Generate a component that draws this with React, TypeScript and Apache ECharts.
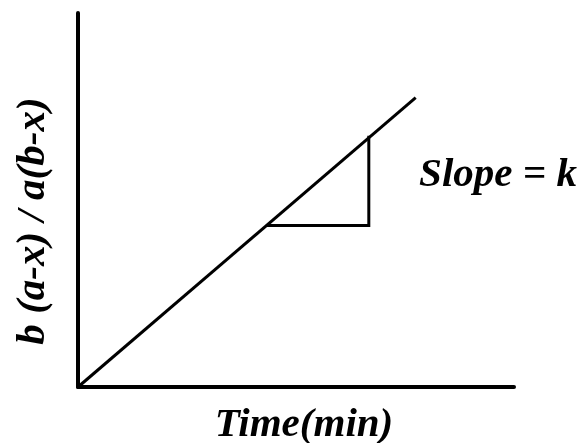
import React, { useEffect, useRef } from "react";
import * as echarts from "echarts";

const xAxisName = "Time(min)";
const yAxisName = "b (a-x) / a(b-x)";
const slopeLabel = "Slope = k";
const axisRange = [0, 100];
const lineX = [0, 77.45];
const lineY = [0, 77.35];
const triangleX = [43.5, 66.7, 66.7];
const triangleY = [43.2, 43.2, 66.8];

const font = "Times New Roman, Liberation Serif, serif";
const baseSize = 36;
const textScale = 1.14;

const labelStyle = (text: string) => ({
  text,
  fontFamily: font,
  fontStyle: "italic",
  fontWeight: "bold",
  fontSize: baseSize,
  fill: "#000",
  align: "center",
  verticalAlign: "middle",
});

export default function App() {
  const ref = useRef<HTMLDivElement>(null);
  useEffect(() => {
    if (!ref.current) return;
    const chart = echarts.init(ref.current, null, { renderer: "svg" });
    chart.setOption({
      animation: false,
      grid: { left: 78, right: 70, top: 13, bottom: 56, containLabel: false },
      xAxis: {
        type: "value",
        min: axisRange[0],
        max: axisRange[1],
        axisLine: { show: true, lineStyle: { color: "#000", width: 4 } },
        axisTick: { show: false },
        axisLabel: { show: false },
        splitLine: { show: false },
      },
      yAxis: {
        type: "value",
        min: axisRange[0],
        max: axisRange[1],
        axisLine: { show: true, lineStyle: { color: "#000", width: 4 } },
        axisTick: { show: false },
        axisLabel: { show: false },
        splitLine: { show: false },
      },
      graphic: [
        {
          type: "text",
          x: 304,
          y: 422,
          scaleX: textScale,
          scaleY: textScale,
          style: labelStyle(xAxisName),
        },
        {
          type: "text",
          x: 30,
          y: 221,
          rotation: Math.PI / 2,
          scaleX: textScale,
          scaleY: textScale,
          style: labelStyle(yAxisName),
        },
        {
          type: "text",
          x: 498,
          y: 172,
          scaleX: textScale,
          scaleY: textScale,
          style: labelStyle(slopeLabel),
        },
      ],
      series: [
        {
          type: "line",
          data: lineX.map((x, i) => [x, lineY[i]]),
          showSymbol: false,
          symbol: "none",
          lineStyle: { color: "#000", width: 3 },
          silent: true,
        },
        {
          type: "line",
          data: triangleX.map((x, i) => [x, triangleY[i]]),
          showSymbol: false,
          symbol: "none",
          lineStyle: { color: "#000", width: 3, join: "miter", cap: "square" },
          silent: true,
        },
      ],
    });
    return () => chart.dispose();
  }, []);
  return (
    <div
      ref={ref}
      style={{ position: "fixed", left: 0, top: 0, width: 584, height: 443 }}
    />
  );
}
